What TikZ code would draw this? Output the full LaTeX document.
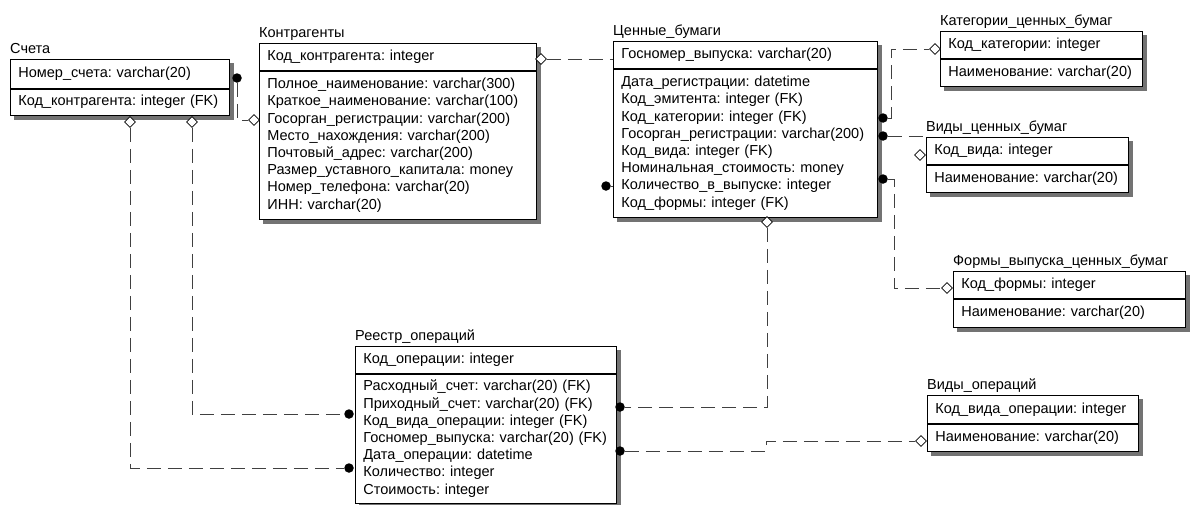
\documentclass[tikz,border=0pt]{standalone}
\usepackage{fontspec}
\setmainfont{Liberation Sans}
\usetikzlibrary{shapes.geometric,calc,positioning}
\pgfdeclarelayer{background}
\pgfsetlayers{background,main}
\frenchspacing
\tikzset{
  ent/.style={draw, fill=white, line width=0.8pt, anchor=north west, align=left,
    inner xsep=8pt, inner ysep=0pt, font=\fontsize{14.5}{17.2}\selectfont},
  enttitle/.style={anchor=base west, inner sep=0pt, font=\fontsize{14.5}{17.2}\selectfont},
  many/.style={circle, fill=black, inner sep=0pt, minimum size=9.5pt},
  one/.style={diamond, draw, fill=white, line width=0.7pt, inner sep=0pt, minimum size=11pt},
  rel/.style={draw=black!75, line width=1pt, dash pattern=on 14pt off 7pt},
  shade/.style={fill=black!55}
}

\begin{document}
\begin{tikzpicture}[x=1pt, y=-1pt]
  \useasboundingbox (0,0) rectangle (1193,504);

  % Счета
  \node[enttitle] (sch-t) at (10,53) {Счета};
  \node[ent, text width=203pt, minimum height=29pt] (sch-k) at (10,59) {Номер\_счета: varchar(20)};
  \node[ent, text width=203pt, minimum height=26pt] (sch-a) at (sch-k.south west) {Код\_контрагента: integer (FK)};

  % Контрагенты
  \node[enttitle] (kon-t) at (259,37) {Контрагенты};
  \node[ent, text width=261pt, minimum height=27pt] (kon-k) at (259,43) {Код\_контрагента: integer};
  \node[ent, text width=261pt, minimum height=148pt] (kon-a) at (kon-k.south west) {Полное\_наименование: varchar(300)\\
    Краткое\_наименование: varchar(100)\\
    Госорган\_регистрации: varchar(200)\\
    Место\_нахождения: varchar(200)\\
    Почтовый\_адрес: varchar(200)\\
    Размер\_уставного\_капитала: money\\
    Номер\_телефона: varchar(20)\\
    ИНН: varchar(20)};

  % Ценные_бумаги
  \node[enttitle] (cb-t) at (613,35) {Ценные\_бумаги};
  \node[ent, text width=248pt, minimum height=27pt] (cb-k) at (613,41) {Госномер\_выпуска: varchar(20)};
  \node[ent, text width=248pt, minimum height=148pt] (cb-a) at (cb-k.south west) {Дата\_регистрации: datetime\\
    Код\_эмитента: integer (FK)\\
    Код\_категории: integer (FK)\\
    Госорган\_регистрации: varchar(200)\\
    Код\_вида: integer (FK)\\
    Номинальная\_стоимость: money\\
    Количество\_в\_выпуске: integer\\
    Код\_формы: integer (FK)};

  % Категории_ценных_бумаг
  \node[enttitle] (kat-t) at (940,25) {Категории\_ценных\_бумаг};
  \node[ent, text width=186pt, minimum height=27pt] (kat-k) at (940,31) {Код\_категории: integer};
  \node[ent, text width=186pt, minimum height=27pt] (kat-a) at (kat-k.south west) {Наименование: varchar(20)};

  % Виды_ценных_бумаг
  \node[enttitle] (vcb-t) at (926,131) {Виды\_ценных\_бумаг};
  \node[ent, text width=186pt, minimum height=27pt] (vcb-k) at (926,137) {Код\_вида: integer};
  \node[ent, text width=186pt, minimum height=27pt] (vcb-a) at (vcb-k.south west) {Наименование: varchar(20)};

  % Формы_выпуска_ценных_бумаг
  \node[enttitle] (fv-t) at (953,265) {Формы\_выпуска\_ценных\_бумаг};
  \node[ent, text width=216pt, minimum height=27pt] (fv-k) at (953,271) {Код\_формы: integer};
  \node[ent, text width=216pt, minimum height=28pt] (fv-a) at (fv-k.south west) {Наименование: varchar(20)};

  % Реестр_операций
  \node[enttitle] (reg-t) at (355,340) {Реестр\_операций};
  \node[ent, text width=245pt, minimum height=27pt] (reg-k) at (355,346) {Код\_операции: integer};
  \node[ent, text width=245pt, minimum height=129pt] (reg-a) at (reg-k.south west) {Расходный\_счет: varchar(20) (FK)\\
    Приходный\_счет: varchar(20) (FK)\\
    Код\_вида\_операции: integer (FK)\\
    Госномер\_выпуска: varchar(20) (FK)\\
    Дата\_операции: datetime\\
    Количество: integer\\
    Стоимость: integer};

  % Виды_операций
  \node[enttitle] (vo-t) at (927,389) {Виды\_операций};
  \node[ent, text width=195pt, minimum height=28pt] (vo-k) at (927,395) {Код\_вида\_операции: integer};
  \node[ent, text width=195pt, minimum height=27pt] (vo-a) at (vo-k.south west) {Наименование: varchar(20)};

  % shadows
  \begin{pgfonlayer}{background}
    \foreach \t in {sch,kon,cb,kat,vcb,fv,reg,vo}
      \fill[shade] ($(\t-k.north west)+(4,4)$) rectangle ($(\t-a.south east)+(4,4)$);
  \end{pgfonlayer}

  % ends of the relations
  \node[many] (d1) at (237,78) {};
  \node[one]  (m1) at (254,120) {};
  \node[one]  (m2) at (541,59) {};
  \node[many] (d2) at (606,186) {};
  \node[many] (d3) at (883,118) {};
  \node[one]  (m3) at (935,49) {};
  \node[many] (d4) at (883,136) {};
  \node[one]  (m4) at (920,155) {};
  \node[many] (d5) at (883,179) {};
  \node[one]  (m5) at (947,288) {};
  \node[one]  (m6) at (767,222) {};
  \node[many] (d6) at (620,407) {};
  \node[many] (d7) at (620,451) {};
  \node[one]  (m7) at (921,441) {};
  \node[one]  (m8) at (130,122) {};
  \node[many] (d8) at (349,468) {};
  \node[one]  (m9) at (192,122) {};
  \node[many] (d9) at (349,414) {};

  \coordinate (c1) at (237,120);
  \coordinate (c2) at (613,59);
  \coordinate (c3) at (891,49);
  \coordinate (c4) at (926,136);
  \coordinate (c5) at (894,288);
  \coordinate (c7) at (766,441);

  % relations
  \begin{pgfonlayer}{background}
    \draw[rel] (d1) -- (c1) -- (m1);
    \draw[rel] (m2) -- (c2) |- (d2);
    \draw[rel] (d3) -| (c3) -- (m3);
    \draw[rel] (d4) -- (c4) |- (m4);
    \draw[rel] (d5) -| (c5) -- (m5);
    \draw[rel] (m6) |- (d6);
    \draw[rel] (d7) -| (c7) -- (m7);
    \draw[rel] (m8) |- (d8);
    \draw[rel] (m9) |- (d9);
  \end{pgfonlayer}
\end{tikzpicture}
\end{document}
